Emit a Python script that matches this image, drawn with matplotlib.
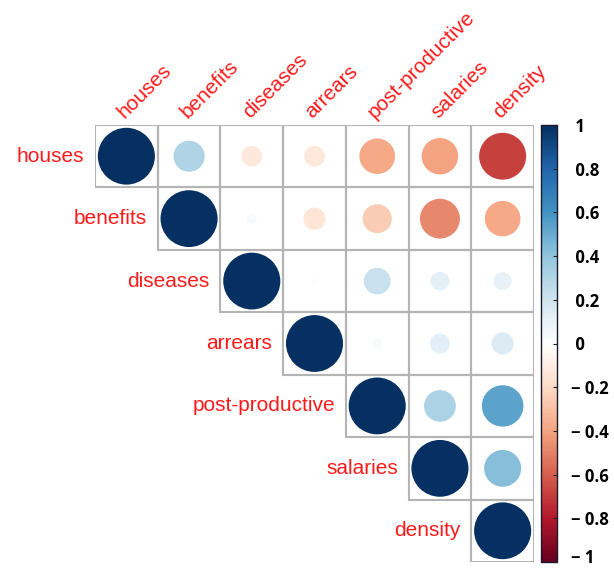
import numpy as np
import matplotlib
matplotlib.use("Agg")
import matplotlib.pyplot as plt
from matplotlib.colors import LinearSegmentedColormap, Normalize
from matplotlib.patches import Circle, Rectangle
from matplotlib.cm import ScalarMappable

# Variable names (rows and columns of the correlation matrix)
variables = ["houses", "benefits", "diseases", "arrears",
             "post-productive", "salaries", "density"]

# Upper-triangle correlations, one list per row starting at the diagonal
r_houses = [1.00, 0.30, -0.13, -0.13, -0.39, -0.41, -0.68]
r_benefits = [1.00, 0.03, -0.15, -0.26, -0.49, -0.39]
r_diseases = [1.00, 0.01, 0.22, 0.11, 0.10]
r_arrears = [1.00, 0.03, 0.12, 0.15]
r_post_productive = [1.00, 0.31, 0.53]
r_salaries = [1.00, 0.42]
r_density = [1.00]

cbar_ticks = [-1.0, -0.8, -0.6, -0.4, -0.2, 0.0, 0.2, 0.4, 0.6, 0.8, 1.0]

rows = [r_houses, r_benefits, r_diseases, r_arrears,
        r_post_productive, r_salaries, r_density]
n = len(variables)
corr = np.full((n, n), np.nan)
for i, row in enumerate(rows):
    corr[i, i:] = row

# Red-blue diverging palette
palette = ["#67001F", "#B2182B", "#D6604D", "#F4A582", "#FDDBC7", "#FFFFFF",
           "#D1E5F0", "#92C5DE", "#4393C3", "#2166AC", "#053061"]
cmap = LinearSegmentedColormap.from_list("rdbu_corr", palette, N=200)
norm = Normalize(vmin=-1, vmax=1)

W, H = 614, 568
fig = plt.figure(figsize=(W / 100, H / 100), dpi=100)
fig.patch.set_facecolor("white")

# Matrix panel
ax = fig.add_axes([95 / W, 1 - 562 / H, 439 / W, 437 / H])
ax.set_xlim(-0.5, n - 0.5)
ax.set_ylim(n - 0.5, -0.5)
ax.axis("off")

grid_color = "#B4B4B4"
for i in range(n):
    for j in range(i, n):
        ax.add_patch(Rectangle((j - 0.5, i - 0.5), 1, 1, fill=False,
                               edgecolor=grid_color, linewidth=1.5, zorder=1))
        r = corr[i, j]
        # circle area proportional to |r|
        ax.add_patch(Circle((j, i), radius=0.455 * np.sqrt(abs(r)),
                            facecolor=cmap(norm(r)), edgecolor="none",
                            zorder=2))

label_font = dict(family="Liberation Sans", size=15, color="#FF1A1A")

# Row labels to the left of each diagonal cell
for i, name in enumerate(variables):
    ax.text(i - 0.5 - 0.17, i, name, ha="right", va="center",
            clip_on=False, **label_font)

# Column labels on top, rotated
for j, name in enumerate(variables):
    ax.text(j - 0.03, -0.6, name, ha="left", va="baseline", rotation=45,
            rotation_mode="anchor", clip_on=False, **label_font)

# Colour bar
cax = fig.add_axes([541 / W, 1 - 562 / H, 16 / W, 437 / H])
sm = ScalarMappable(norm=norm, cmap=cmap)
cb = fig.colorbar(sm, cax=cax, ticks=cbar_ticks)
cb.outline.set_edgecolor("#1a1a2e")
cb.outline.set_linewidth(1.0)


def fmt(v):
    if abs(v) < 1e-9:
        return " 0"
    s = f"{abs(v):g}"
    return ("\u2212 " + s) if v < 0 else " " + s


tick_font = dict(family="Open Sans", weight="bold", size=12, color="black")

# tick labels above the bottom end; the bottom one is lifted slightly so it
# stays inside the figure
cb.set_ticklabels([fmt(v) if v > cbar_ticks[0] else "" for v in cbar_ticks])
cax.tick_params(axis="y", direction="in", length=3, width=0.8,
                color="#222222", pad=10, labelsize=12)
for t in cax.get_yticklabels():
    t.set_fontweight("bold")
    t.set_family("Open Sans")
cax.annotate(fmt(cbar_ticks[0]), xy=(1, cbar_ticks[0]),
             xycoords=("axes fraction", "data"), xytext=(10, 3),
             textcoords="offset points", ha="left", va="center",
             annotation_clip=False, **tick_font)

fig.savefig("out.png", dpi=100, facecolor="white")
